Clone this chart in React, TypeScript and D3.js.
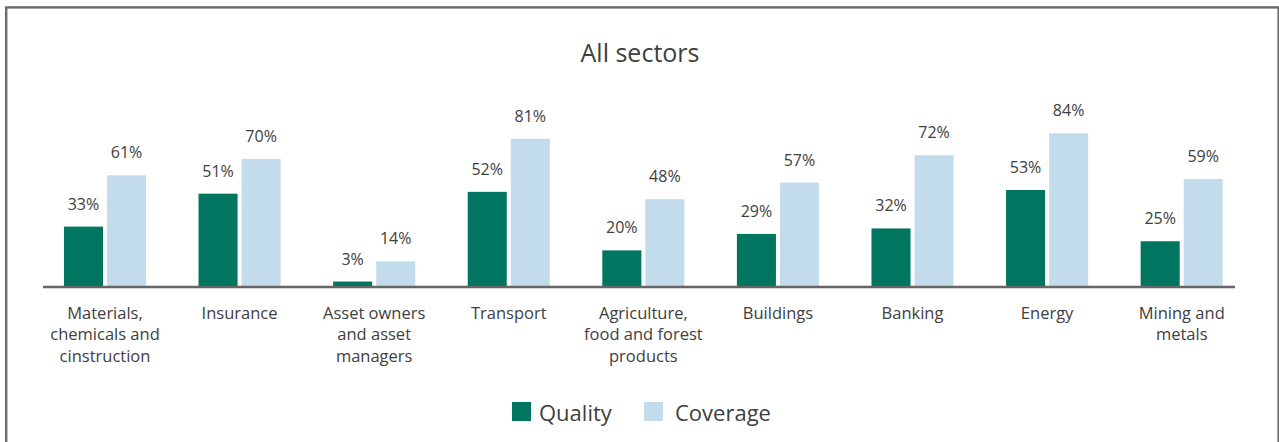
import React from "react";
import * as d3 from "d3";

const categories: string[][] = [
  ["Materials,", "chemicals and", "cinstruction"],
  ["Insurance"],
  ["Asset owners", "and asset", "managers"],
  ["Transport"],
  ["Agriculture,", "food and forest", "products"],
  ["Buildings"],
  ["Banking"],
  ["Energy"],
  ["Mining and", "metals"],
];
const quality: number[] = [33, 51, 3, 52, 20, 29, 32, 53, 25];
const coverage: number[] = [61, 70, 14, 81, 48, 57, 72, 84, 59];
const seriesNames = ["Quality", "Coverage"];
const colors = ["#007560", "#C3DCEB"];
const title = "All sectors";

const W = 1279;
const H = 442;
const FONT = "'Open Sans', 'Noto Sans', sans-serif";
const TEXT = "#404040";

export default function App() {
  const keys = categories.map((_, i) => String(i));
  const x0 = d3
    .scaleBand<string>()
    .domain(keys)
    .range([37.7, 1249])
    .paddingInner(0.39)
    .paddingOuter(0.195);
  const x1 = d3
    .scaleBand<string>()
    .domain(seriesNames)
    .range([0, x0.bandwidth()])
    .paddingInner(0.093);
  const y = d3.scaleLinear().domain([0, 100]).range([287, 104]);
  const series = [quality, coverage];

  return (
    <svg
      width={W}
      height={H}
      style={{ position: "absolute", left: 0, top: 0, background: "#fff" }}
      fontFamily={FONT}
    >
      <rect x={6.2} y={7.4} width={1272.4} height={600} fill="#fff" stroke="#6b6b6b" strokeWidth={2.4} />
      <text x={640} y={61.5} textAnchor="middle" fontSize={25} fill={TEXT}>
        {title}
      </text>
      {keys.map((k, i) => (
        <g key={k} transform={`translate(${x0(k)},0)`}>
          {seriesNames.map((s, j) => {
            const v = series[j][i];
            const bx = x1(s)!;
            return (
              <g key={s}>
                <rect x={bx} y={y(v)} width={x1.bandwidth()} height={y(0) - y(v)} fill={colors[j]} />
                <text
                  x={bx + x1.bandwidth() / 2}
                  y={y(v) - 17}
                  textAnchor="middle"
                  fontSize={16}
                  fill={TEXT}
                >
                  {v}%
                </text>
              </g>
            );
          })}
          {categories[i].map((line, li) => (
            <text
              key={li}
              x={x0.bandwidth() / 2}
              y={318.5 + li * 21.5}
              textAnchor="middle"
              fontSize={16.5}
              fill={TEXT}
            >
              {line}
            </text>
          ))}
        </g>
      ))}
      <line x1={43} x2={1235} y1={287} y2={287} stroke="#666" strokeWidth={2.5} />
      <g>
        <rect x={512} y={402} width={19} height={19} fill={colors[0]} />
        <text x={539} y={421} fontSize={22} fill={TEXT}>
          {seriesNames[0]}
        </text>
        <rect x={644} y={402} width={19} height={19} fill={colors[1]} />
        <text x={675} y={421} fontSize={22} fill={TEXT}>
          {seriesNames[1]}
        </text>
      </g>
    </svg>
  );
}
